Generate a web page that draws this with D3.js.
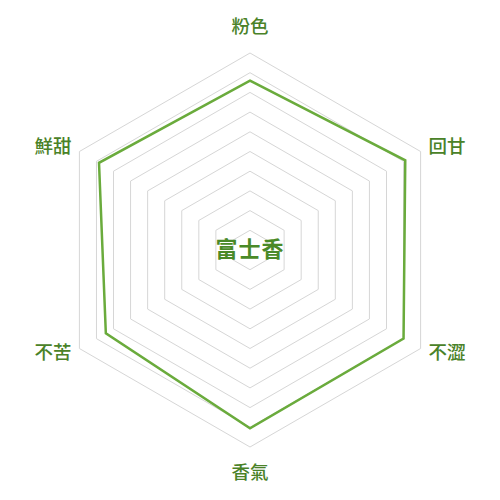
<!DOCTYPE html>
<html>
<head>
<meta charset="utf-8">
<script src="https://cdn.jsdelivr.net/npm/d3@7/dist/d3.min.js"></script>
<style>
  html, body { margin: 0; padding: 0; background: #fff; }
  svg { display: block; }
</style>
</head>
<body>
<div class="chart"></div>
<script>
// axes go clockwise from the top
const axes = ['粉色', '回甘', '不澀', '香氣', '不苦', '鮮甜'];
const scores = [8.6, 9.1, 9.0, 9.05, 8.45, 8.85];
const levels = [1, 2, 3, 4, 5, 6, 7, 8, 9, 10];
const title = '富士香';

var width = 500, height = 500,
    cx = 250, cy = 250, radius = 197;

var r = d3.scaleLinear().domain([0, 10]).range([0, radius]);
var angle = d3.scaleLinear().domain([0, axes.length]).range([0, 2 * Math.PI]);

var svg = d3.select(".chart").append("svg")
    .attr("width", width)
    .attr("height", height)
    .append("g")
    .attr("transform", "translate(" + cx + "," + cy + ")");

function pt(i, v) {
    let a = angle(i);
    return [r(v) * Math.sin(a), -r(v) * Math.cos(a)];
}

// grid hexagons
svg.selectAll(".ring")
    .data(levels)
    .enter().append("polygon")
    .attr("class", "ring")
    .attr("points", function (lv) {
        return axes.map((a, i) => pt(i, lv).join(",")).join(" ");
    })
    .attr("fill", "none")
    .attr("stroke", "#d6d6d6")
    .attr("stroke-width", 1);

// data polygon
svg.append("polygon")
    .attr("points", scores.map((v, i) => pt(i, v).join(",")).join(" "))
    .attr("fill", "none")
    .attr("stroke", "#6aab3c")
    .attr("stroke-width", 2.5)
    .attr("stroke-linejoin", "miter");

// axis names
var labelR = r(10) + 9;
svg.selectAll(".axis-name")
    .data(axes)
    .enter().append("text")
    .attr("class", "axis-name")
    .attr("x", function (d, i) { return labelR * Math.sin(angle(i)); })
    .attr("y", function (d, i) {
        let s = -Math.cos(angle(i));
        if (Math.abs(s) > 0.99) return s * (labelR + 17);
        return s * labelR;
    })
    .attr("dy", "0.35em")
    .attr("text-anchor", function (d, i) {
        let s = Math.sin(angle(i));
        return Math.abs(s) < 0.01 ? "middle" : (s > 0 ? "start" : "end");
    })
    .attr("font-family", "'Noto Sans CJK TC', 'Noto Sans CJK SC', sans-serif")
    .attr("font-size", "18.5px")
    .attr("font-weight", 500)
    .attr("fill", "#4a8228")
    .text(d => d);

// centre title
svg.append("text")
    .attr("x", 0)
    .attr("y", -1)
    .attr("dy", "0.35em")
    .attr("text-anchor", "middle")
    .attr("font-family", "'Noto Sans CJK TC', sans-serif")
    .attr("font-weight", "bold")
    .attr("font-size", "22px")
    .attr("letter-spacing", "1px")
    .attr("fill", "#4a8a28")
    .text(title);
</script>
</body>
</html>
